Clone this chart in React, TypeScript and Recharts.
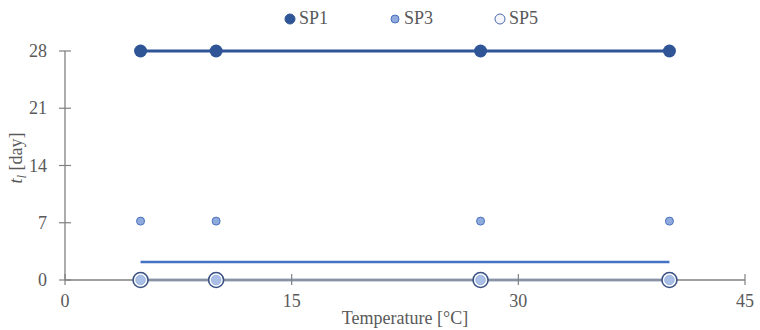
import React from 'react';
import { ComposedChart, Line, XAxis, YAxis, Legend } from 'recharts';

// values
const temps = [5, 10, 27.5, 40];
const sp1 = [28, 28, 28, 28];
const sp3 = [7.2, 7.2, 7.2, 7.2];
const sp3Line = [2.2, 2.2, 2.2, 2.2];
const sp5 = [0, 0, 0, 0];
const xTicks = [0, 15, 30, 45];
const yTicks = [0, 7, 14, 21, 28];

const data = temps.map((t, i) => ({
  t,
  sp1: sp1[i],
  sp3: sp3[i],
  sp3Line: sp3Line[i],
  sp5: sp5[i]
}));

const font = 'Liberation Serif, serif';
const textColor = '#595959';
const axisColor = '#808080';

const legendItems = [
  { name: 'SP1', r: 5, fill: '#2F5597', stroke: '#2F5597' },
  { name: 'SP3', r: 4, fill: '#8FAADC', stroke: '#4A72BE' },
  { name: 'SP5', r: 5, fill: '#F4F6FB', stroke: '#4A6AA8' }
];

const YTick = (props: any) => {
  const { x, y, payload } = props;
  return <g>
      <line x1={x - 6} x2={x + 6} y1={y} y2={y} stroke={axisColor} strokeWidth={1.2} />
      <text x={x - 18} y={y + 6} textAnchor="end" fill={textColor} style={{ fontFamily: font, fontSize: 18 }}>
        {payload.value}
      </text>
    </g>;
};

const XTick = (props: any) => {
  const { x, y, payload } = props;
  return <g>
      <line x1={x} x2={x} y1={y - 6} y2={y + 5} stroke={axisColor} strokeWidth={1.2} />
      <text x={x} y={y + 27} textAnchor="middle" fill={textColor} style={{ fontFamily: font, fontSize: 18 }}>
        {payload.value}
      </text>
    </g>;
};

const Sp5Dot = (props: any) => {
  const { cx, cy } = props;
  if (cx == null || cy == null) return null;
  return <g>
      <circle cx={cx} cy={cy} r={7.5} fill="#FFFFFF" stroke="#3A5183" strokeWidth={1.6} />
      <circle cx={cx} cy={cy} r={4.8} fill="#A9BFE6" stroke="#8FAADC" strokeWidth={0.8} />
    </g>;
};

const renderLegend = () => <div style={{ position: 'absolute', left: 284, top: 8, display: 'flex', fontFamily: font, fontSize: 18, color: textColor }}>
    {legendItems.map((item, i) => <div key={item.name} style={{ display: 'flex', alignItems: 'center', marginRight: i < 2 ? 61 : 0 }}>
        <svg width={12} height={12} style={{ marginRight: 3 }}>
          <circle cx={6} cy={6} r={item.r} fill={item.fill} stroke={item.stroke} strokeWidth={1} />
        </svg>
        <span style={{ fontFamily: font }}>{item.name}</span>
      </div>)}
  </div>;

const YLabel = () => <text transform="rotate(-90, 22, 158)" x={22} y={158} textAnchor="middle" fill={textColor} style={{ fontFamily: font, fontSize: 18 }}>
    <tspan fontStyle="italic">t</tspan>
    <tspan fontStyle="italic" fontSize={13} dy={4}>l</tspan>
    <tspan dy={-4}> [day]</tspan>
  </text>;

const App = () => {
  return <div style={{ position: 'absolute', left: 0, top: 0, width: 760, height: 330, background: '#fff', fontFamily: font }}>
      <ComposedChart width={760} height={330} data={data} margin={{ top: 51, right: 15, bottom: 10, left: 0 }}>
        <XAxis dataKey="t" type="number" domain={[0, 45]} ticks={xTicks} tick={<XTick />} tickLine={false} tickSize={0} tickMargin={0} height={40} axisLine={{ stroke: axisColor, strokeWidth: 1.3 }} label={{ value: 'Temperature [°C]', position: 'insideBottom', offset: 0, dy: 4, fill: textColor, fontSize: 18, fontFamily: font }} />
        <YAxis type="number" domain={[0, 28]} ticks={yTicks} tick={<YTick />} tickLine={false} tickSize={0} tickMargin={0} width={65} axisLine={{ stroke: axisColor, strokeWidth: 1.3 }} label={<YLabel />} />
        <Legend verticalAlign="middle" content={renderLegend} wrapperStyle={{ top: 0, left: 0 }} />
        <Line dataKey="sp5" name="SP5" stroke="#B4C7E7" strokeWidth={3.5} dot={<Sp5Dot />} activeDot={false} isAnimationActive={false} />
        <Line dataKey="sp3Line" legendType="none" stroke="#4472C4" strokeWidth={2.5} dot={false} activeDot={false} isAnimationActive={false} />
        <Line dataKey="sp3" name="SP3" stroke="none" dot={{ r: 4, fill: '#8FAADC', stroke: '#4A72BE', strokeWidth: 1 }} activeDot={false} isAnimationActive={false} />
        <Line dataKey="sp1" name="SP1" stroke="#2F5597" strokeWidth={3} dot={{ r: 6.5, fill: '#2F5597', stroke: '#2F5597', strokeWidth: 0 }} activeDot={false} isAnimationActive={false} />
      </ComposedChart>
    </div>;
};

export default App;
